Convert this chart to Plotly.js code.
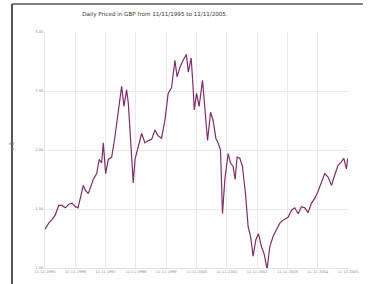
<!DOCTYPE html>
<html>
<head>
<meta charset="utf-8">
<script src="https://cdn.plot.ly/plotly-3.0.1.min.js"></script>
<style>html,body{margin:0;padding:0;background:#fff;}#chart{width:368px;height:284px;}</style>
</head>
<body>
<div id="chart"></div>
<script>
var dates = ['1995-11-11','1995-12-26','1996-02-03','1996-03-14','1996-04-24','1996-06-03','1996-07-13','1996-08-23','1996-10-01','1996-11-10','1996-12-13','1997-01-09','1997-02-15','1997-03-11','1997-04-16','1997-06-15','1997-07-26','1997-08-26','1997-09-24','1997-10-14','1997-11-11','1997-12-13','1998-01-23','1998-03-03','1998-04-12','1998-05-23','1998-06-20','1998-07-22','1998-08-11','1998-09-09','1998-10-10','1998-10-31','1998-12-09','1999-01-19','1999-02-28','1999-04-09','1999-05-20','1999-06-29','1999-08-06','1999-09-16','1999-10-26','1999-12-05','2000-01-15','2000-02-24','2000-03-22','2000-04-24','2000-06-02','2000-07-11','2000-08-04','2000-09-07','2000-09-27','2000-10-15','2000-11-11','2000-12-12','2001-01-22','2001-02-19','2001-03-24','2001-04-29','2001-05-30','2001-07-02','2001-07-29','2001-08-27','2001-09-20','2001-10-18','2001-11-27','2001-12-26','2002-01-26','2002-02-19','2002-03-15','2002-04-17','2002-05-19','2002-06-28','2002-07-26','2002-08-24','2002-09-24','2002-10-27','2002-11-28','2003-01-03','2003-02-04','2003-03-12','2003-04-13','2003-05-23','2003-07-03','2003-08-12','2003-09-29','2003-11-20','2003-12-31','2004-02-09','2004-03-19','2004-04-29','2004-06-08','2004-07-18','2004-08-28','2004-10-07','2004-11-15','2004-12-26','2005-02-04','2005-03-16','2005-04-26','2005-06-05','2005-07-14','2005-08-24','2005-09-21','2005-10-23','2005-11-08'];
var prices = [1.33,1.38,1.41,1.45,1.53,1.53,1.51,1.54,1.55,1.52,1.51,1.58,1.70,1.66,1.63,1.75,1.80,1.92,1.89,2.06,1.80,1.92,1.94,2.11,2.34,2.54,2.37,2.51,2.40,2.03,1.72,1.92,2.03,2.14,2.06,2.08,2.09,2.17,2.12,2.10,2.25,2.48,2.53,2.76,2.62,2.70,2.76,2.81,2.66,2.78,2.57,2.34,2.48,2.37,2.59,2.34,2.08,2.32,2.25,2.10,2.06,2.00,1.46,1.75,1.97,1.89,1.86,1.75,1.94,1.93,1.86,1.60,1.35,1.27,1.10,1.24,1.29,1.18,1.12,0.99,1.18,1.27,1.32,1.38,1.41,1.43,1.49,1.51,1.46,1.52,1.51,1.47,1.55,1.59,1.65,1.72,1.80,1.77,1.70,1.79,1.87,1.90,1.93,1.84,1.93];
var tickDates = ['1995-11-11','1996-11-11','1997-11-11','1998-11-11','1999-11-11','2000-11-11','2001-11-11','2002-11-11','2003-11-11','2004-11-11','2005-11-11'];
var tickLabels = ['11-11-1995','11-11-1996','11-11-1997','11-11-1998','11-11-1999','11-11-2000','11-11-2001','11-11-2002','11-11-2003','11-11-2004','11-11-2005'];
var yTicks = [1.0, 1.5, 2.0, 2.5, 3.0];
var yLabels = ['1.00','1.50','2.00','2.50','3.00'];
var titleText = 'Daily Priced in GBP from 11/11/1995 to 11/11/2005.';

var trace = {
  x: dates, y: prices, type: 'scatter', mode: 'lines',
  line: {color: '#7d3068', width: 1.2}, hoverinfo: 'none'
};
var layout = {
  width: 368, height: 284,
  margin: {l: 45, r: 20, t: 32, b: 16, pad: 0},
  paper_bgcolor: '#ffffff', plot_bgcolor: '#ffffff',
  showlegend: false,
  font: {family: 'DejaVu Sans, sans-serif', color: '#777'},
  title: {text: titleText, font: {size: 5.6, color: '#333', family: 'DejaVu Sans, sans-serif'},
          xref: 'paper', x: 0.363, xanchor: 'center', yref: 'container', y: 0.95, yanchor: 'middle'},
  xaxis: {type: 'date', range: ['1995-11-11','2005-11-11'], tickmode: 'array', tickvals: tickDates, ticktext: tickLabels,
          showgrid: true, gridcolor: '#efe6ee', gridwidth: 1, showline: true, linecolor: '#e6e0e6', zeroline: false,
          ticks: '', tickfont: {size: 3.6, color: '#888'}, ticklen: 0},
  yaxis: {range: [1, 3], tickmode: 'array', tickvals: yTicks, ticktext: yLabels,
          showgrid: true, gridcolor: '#ebebeb', gridwidth: 1, showline: true, linecolor: '#e6e6e6', zeroline: false,
          ticks: '', tickfont: {size: 3.6, color: '#888'}},
  annotations: [{text: 'ed<br>e', xref: 'paper', yref: 'paper', x: -0.093, y: 0.515, xanchor: 'right', yanchor: 'middle',
                 showarrow: false, align: 'right', font: {size: 4, color: '#777'}}],
  shapes: [
    {type: 'line', xref: 'paper', yref: 'paper', x0: -0.109, x1: -0.109, y0: 1.119, y1: -0.08, line: {color: '#555', width: 2}},
    {type: 'line', xref: 'paper', yref: 'paper', x0: -0.109, x1: 1.049, y0: 1.119, y1: 1.119, line: {color: '#555', width: 1.5}}
  ]
};
Plotly.newPlot('chart', [trace], layout, {staticPlot: true, displayModeBar: false});
</script>
</body>
</html>
